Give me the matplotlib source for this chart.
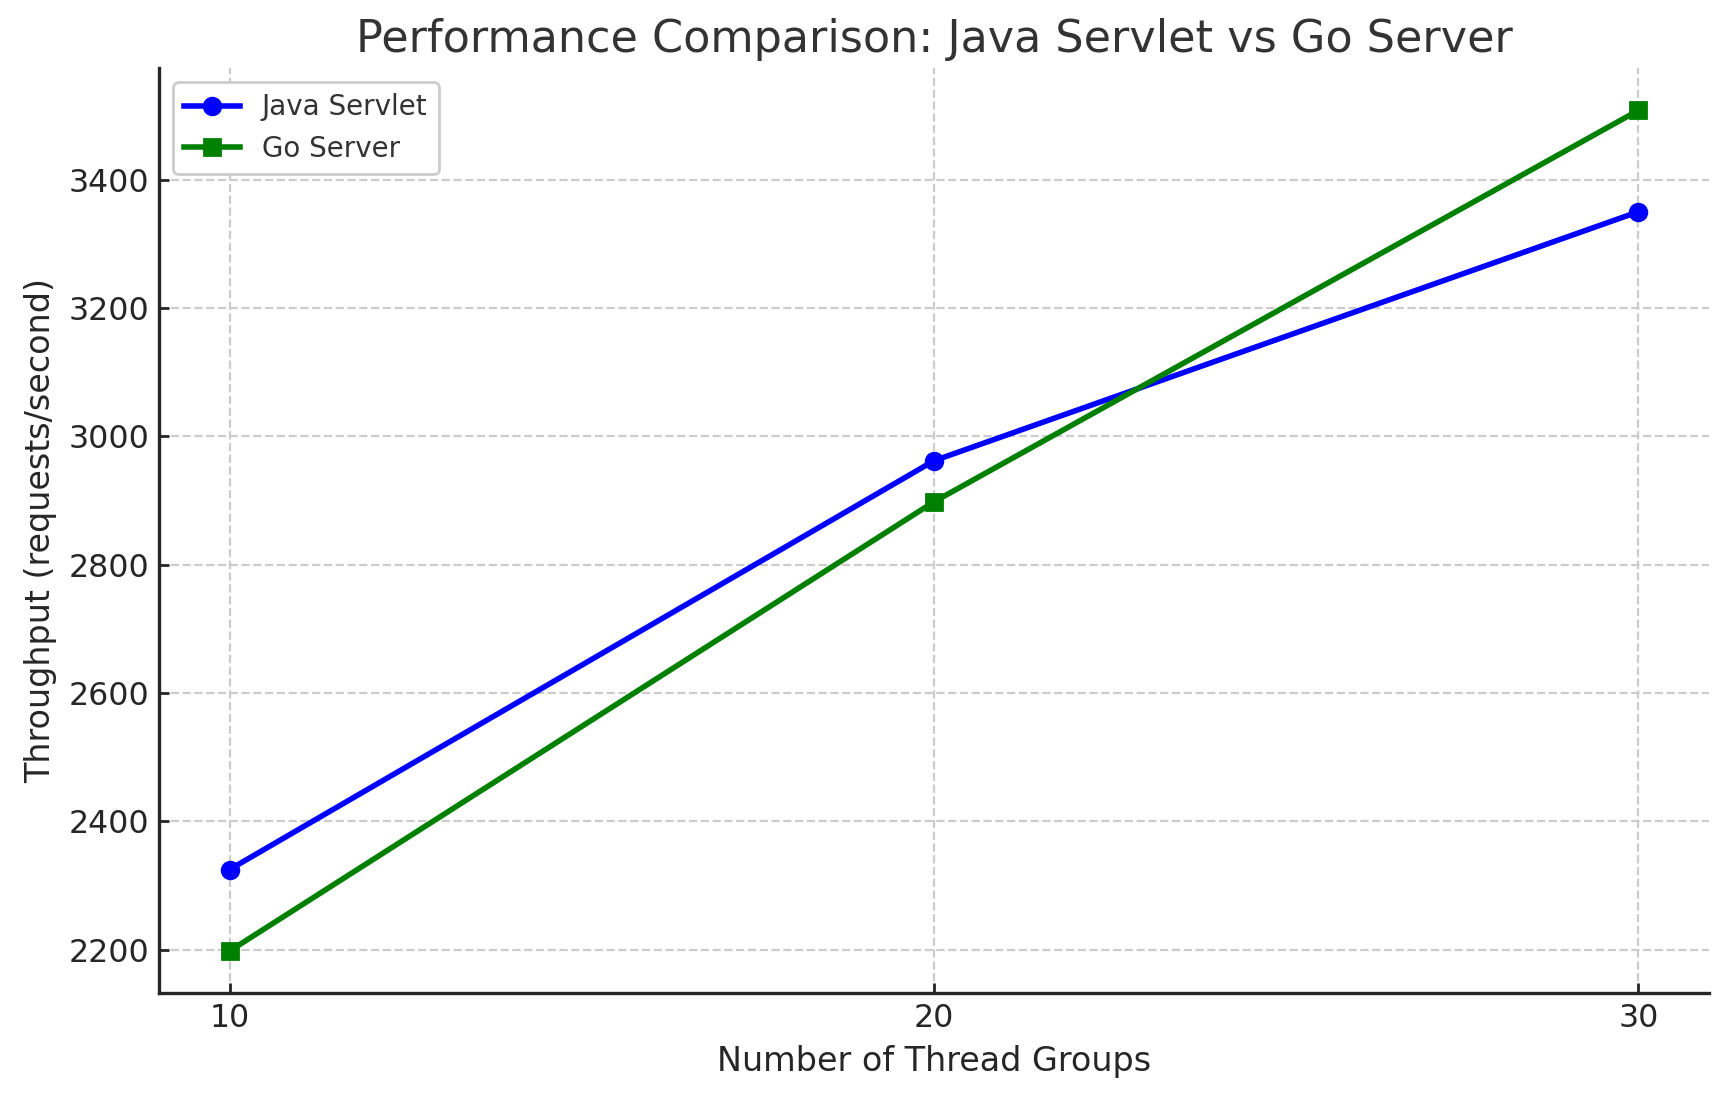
import matplotlib.pyplot as plt

# Dados do gráfico
threads = [10, 20, 30]
java_servlet = [2325, 2962, 3350]
go_server = [2198, 2898, 3508]

plt.rcParams['font.family'] = ['DejaVu Sans']

fig = plt.figure(figsize=(1729 / 200, 1101 / 200), dpi=200)
ax = fig.add_axes([0.092, 0.098, 0.8964, 0.84])

ax.plot(threads, java_servlet, color='blue', marker='o', linewidth=2,
        markersize=6, label='Java Servlet')
ax.plot(threads, go_server, color='green', marker='s', linewidth=2,
        markersize=6, label='Go Server')

ax.set_title('Performance Comparison: Java Servlet vs Go Server',
             fontsize=16, color='#333333')
ax.set_xlabel('Number of Thread Groups', fontsize=12, color='#262626')
ax.set_ylabel('Throughput (requests/second)', fontsize=12, color='#262626')
ax.set_xticks(threads)

ax.grid(True, linestyle='--', color='#cccccc', linewidth=0.8)
ax.tick_params(direction='in', labelsize=11.4, colors='#262626', length=3.5,
               width=1.0)
for lado in ['top', 'right']:
    ax.spines[lado].set_visible(False)
for lado in ['left', 'bottom']:
    ax.spines[lado].set_color('#262626')
    ax.spines[lado].set_linewidth(1.2)

leg = ax.legend(loc='upper left', fontsize=10, framealpha=1)
leg.get_frame().set_edgecolor('#cccccc')
for txt in leg.get_texts():
    txt.set_color('#333333')

fig.savefig('out.png', dpi=200)
